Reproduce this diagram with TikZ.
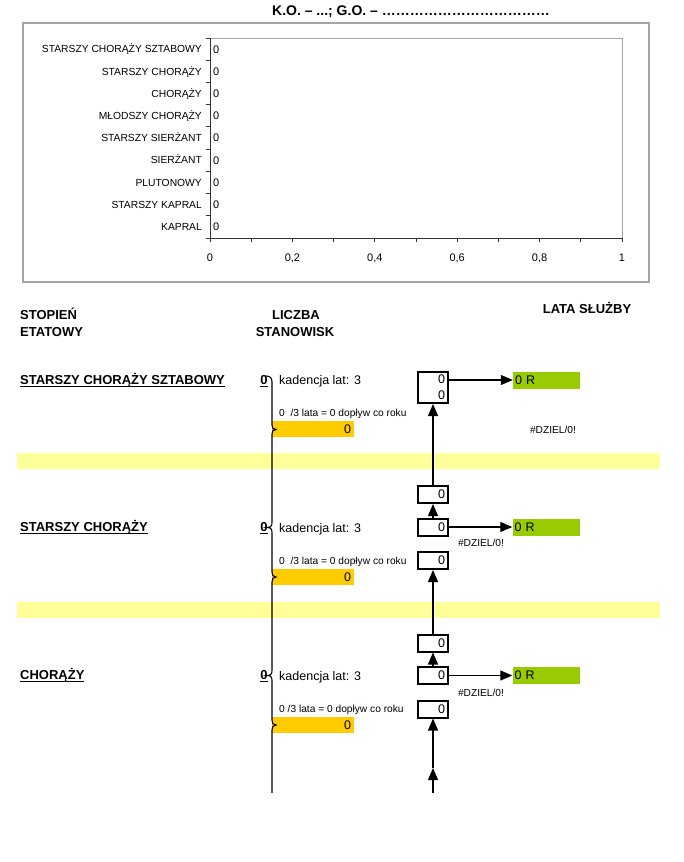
\documentclass[tikz,border=0pt]{standalone}
\usepackage{fontspec}
\setmainfont{Liberation Sans}
\usetikzlibrary{arrows.meta,positioning,calc}
\definecolor{lime}{RGB}{153,204,0}
\definecolor{gold}{RGB}{255,204,0}
\definecolor{pale}{RGB}{255,255,153}
\definecolor{frame}{RGB}{165,165,165}
\newcommand{\fsz}[1]{\fontsize{#1}{#1}\selectfont}
\newcommand{\ul}[1]{\underline{\smash{#1}}}
\tikzset{
  >={Triangle[length=12pt,width=10pt]},
  lbl/.style={inner sep=0pt,font=\fsz{10.3}},
  head/.style={inner sep=0pt,anchor=base west,font=\fsz{13}\bfseries},
  rank/.style={inner sep=0pt,anchor=base west,font=\fsz{13}\bfseries},
  txt/.style={inner sep=0pt,anchor=base west,font=\fsz{12.5}},
  note/.style={inner sep=0pt,font=\fsz{10.2}},
  cnt/.style={draw,line width=2pt,minimum width=30pt,minimum height=17pt,inner sep=1.5pt,
    text width=24pt,align=right,font=\fsz{12.5}},
  res/.style={fill=lime,minimum width=67pt,minimum height=17pt,inner sep=2pt,
    text width=63pt,align=left,font=\fsz{12.5}},
  inflow/.style={fill=gold,minimum width=82pt,minimum height=16pt,inner sep=2pt,
    text width=76pt,align=right,font=\fsz{12.5}},
  band/.style={fill=pale},
  link/.style={->,line width=1.1pt},
}
\begin{document}
\begin{tikzpicture}[x=1pt,y=-1pt]
  \useasboundingbox (0,0) rectangle (684,862);
  % title and chart
  \node[font=\fsz{14}\bfseries] (title) at (411,12) {K.O. – ...; G.O. – ………………………………};
  \draw[frame,line width=1.2pt] (23,23) rectangle (649,282);
  \draw[frame,line width=0.8pt] (210,38) -- (622,38) -- (622,238);
  \draw[black!80,line width=0.8pt] (622,238) -- (210,238) -- (210,38);
  \foreach \t [count=\i from 0] in {STARSZY CHORĄŻY SZTABOWY,STARSZY CHORĄŻY,CHORĄŻY,
      MŁODSZY CHORĄŻY,STARSZY SIERŻANT,SIERŻANT,PLUTONOWY,STARSZY KAPRAL,KAPRAL} {
    \node[lbl,anchor=base east] (c\i) at (202,{52.8+22.22*\i}) {\t};
    \node[lbl,anchor=base west,font=\fsz{11}] (v\i) at (213,{53+22.22*\i}) {0};
  }
  \foreach \k in {0,...,9} \draw[black!80,line width=0.8pt] (206,{38+22.22*\k}) -- (210,{38+22.22*\k});
  \foreach \k in {0,...,10} \draw[black!80,line width=0.8pt] (210+41.2*\k,238) -- (210+41.2*\k,242);
  \foreach \v [count=\k from 0] in {0,{0,2},{0,4},{0,6},{0,8},1}
    \node[lbl,anchor=base,font=\fsz{11}] (x\k) at (210+82.4*\k,261) {\v};
  % bands
  \fill[band] (17,453) rectangle (660,469);
  \fill[band] (17,602) rectangle (660,618);
  % headers
  \node[head] (h1) at (20,319.5) {STOPIEŃ};
  \node[head] (h2) at (20,336.5) {ETATOWY};
  \node[head,anchor=base] (h3) at (296,319.5) {LICZBA};
  \node[head,anchor=base] (h4) at (295,336.5) {STANOWISK};
  \node[head,anchor=base] (h5) at (587,313.5) {LATA SŁUŻBY};
  % ranks
  \node[rank] (r1) at (20,384.5) {\ul{STARSZY CHORĄŻY SZTABOWY}};
  \node[rank] (r2) at (20,531.5) {\ul{STARSZY CHORĄŻY}};
  \node[rank] (r3) at (20,679.5) {\ul{CHORĄŻY}};
  \node[rank,anchor=base] (n1) at (264,384.5) {\ul{0}};
  \node[rank,anchor=base] (n2) at (264,531.5) {\ul{0}};
  \node[rank,anchor=base] (n3) at (264,679.5) {\ul{0}};
  \node[txt] (k1) at (279,384.5) {kadencja lat: 3};
  \node[txt] (k2) at (279,532.5) {kadencja lat: 3};
  \node[txt] (k3) at (279,680.5) {kadencja lat: 3};
  \node[note,anchor=base west] (s1) at (279,416.7) {0~~/3 lata = 0 dopływ co roku};
  \node[note,anchor=base west] (s2) at (279,564.7) {0~~/3 lata = 0 dopływ co roku};
  \node[note,anchor=base west] (s3) at (279,712.7) {0 /3 lata = 0 dopływ co roku};
  \node[inflow] (o1) at (313,429) {0};
  \node[inflow] (o2) at (313,577) {0};
  \node[inflow] (o3) at (313,725) {0};
  \draw[line width=1.1pt] (266,376) .. controls (270,376) and (272,378) .. (272,382)
    -- (272,425) .. controls (272,428) and (273,429.5) .. (276,429.5) .. controls (273,429.5) and (272,431) .. (272,434)
    -- (272,522) .. controls (272,526) and (271,527.5) .. (267,527.5) .. controls (271,527.5) and (272,529) .. (272,533)
    -- (272,572) .. controls (272,575) and (273,577) .. (276,577) .. controls (273,577) and (272,579) .. (272,582)
    -- (272,670) .. controls (272,674) and (271,675.5) .. (267,675.5) .. controls (271,675.5) and (272,677) .. (272,681)
    -- (272,720) .. controls (272,723) and (273,725) .. (276,725) .. controls (273,725) and (272,727) .. (272,730)
    -- (272,793);
  % service boxes
  \node[cnt,minimum height=31pt,font=\fontsize{12.5}{16}\selectfont] (b1) at (433,387.5) {0\\0};
  \node[cnt] (t2) at (433,494.5) {0};
  \node[cnt] (m2) at (433,527) {0};
  \node[cnt] (u2) at (433,560.5) {0};
  \node[cnt] (t3) at (433,643) {0};
  \node[cnt] (m3) at (433,675.5) {0};
  \node[cnt] (u3) at (433,709) {0};
  \node[res] (g1) at (546.5,380) {0 R};
  \node[res] (g2) at (546,527) {0 R};
  \node[res] (g3) at (546,675.5) {0 R};
  \node[note] (d1) at (553,430) {\#DZIEL/0!};
  \node[note] (d2) at (481,543) {\#DZIEL/0!};
  \node[note] (d3) at (481,693) {\#DZIEL/0!};
  \coordinate (s3) at (433,768);
  \coordinate (e3) at (433,793);
  \draw[link] (b1.east |- g1.west) -- (g1.west);
  \draw[link] (m2.east) -- (m2.east -| g2.west);
  \draw[link] (m3.east) -- (m3.east -| g3.west);
  \draw[link] (t2.north) -- (b1.south);
  \draw[link] (m2.north) -- (t2.south);
  \draw[link] (t3.north) -- (u2.south);
  \draw[link] (m3.north) -- (t3.south);
  \draw[link] (s3) -- (u3.south);
  \draw[link] (e3) -- (s3);
\end{tikzpicture}
\end{document}
